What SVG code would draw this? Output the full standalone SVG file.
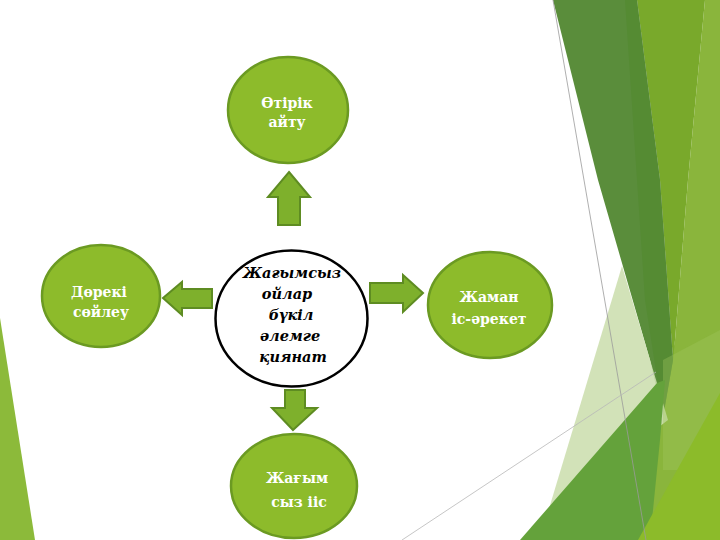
<svg xmlns="http://www.w3.org/2000/svg" width="720" height="540" viewBox="0 0 720 540">
<defs>
<style>
.node{fill:#8dbb2b;stroke:#6b9a22;stroke-width:2.5}
.arrow{fill:#7eb02c;stroke:#5e8c22;stroke-width:2}
.nt{font-family:"DejaVu Serif",serif;font-weight:bold;font-size:14px;fill:#ffffff;text-anchor:middle}
.ct{font-family:"DejaVu Serif",serif;font-weight:bold;font-style:italic;font-size:14.5px;fill:#000000;text-anchor:middle}
</style>
</defs>
<rect width="720" height="540" fill="#ffffff"/>
<g id="background">
<polygon points="0,318 35,540 0,540" fill="#8cba3a"/>
<polygon points="705,0 720,0 720,540 640,540 665,400 675,340 688,180" fill="#8ab53c"/>
<polygon points="637,0 705,0 688,180 675,340 673,360 660,180" fill="#79a92b"/>
<polygon points="553,0 637,0 660,180 673,360 663,417 650,360 598,180" fill="#5a8d3b"/>
<polygon points="625,0 637,0 660,180 673,360 663,417 645,300" fill="#538a30" opacity="0.7"/>
<polygon points="622,266 668,420 548,512" fill="#cddfb0" opacity="0.9"/>
<polygon points="663,360 720,330 720,470 663,470" fill="#a0c65e" opacity="0.35"/>
<polygon points="520,540 657,383 665,380 660,440 650,540" fill="#64a23b"/>
<polygon points="638,540 720,393 720,540" fill="#8cbb2a"/>
<line x1="553" y1="0" x2="646" y2="540" stroke="#9a9a9a" stroke-width="0.8"/>
<line x1="402" y1="540" x2="656" y2="372" stroke="#b8b8b8" stroke-width="0.8"/>
</g>
<g id="connectors">
<polygon class="arrow" points="289,172 310,197 300,197 300,225 278,225 278,197 268,197"/>
<polygon class="arrow" points="163,298 182,282 182,289 212,289 212,308 182,308 182,315"/>
<polygon class="arrow" points="423,293 403,275 403,283 370,283 370,303 403,303 403,312"/>
<polygon class="arrow" points="293,430 317,408 305,408 305,390 285,390 285,408 272,408"/>
</g>
<g id="center">
<ellipse cx="291.5" cy="318.5" rx="76" ry="68" fill="#ffffff" stroke="#000000" stroke-width="2.5"/>
<text class="ct" x="292" y="278">Жағымсыз</text>
<text class="ct" x="287" y="299">ойлар</text>
<text class="ct" x="291" y="320">бүкіл</text>
<text class="ct" x="290" y="341">әлемге</text>
<text class="ct" x="293" y="362">қиянат</text>
</g>
<g id="node-top">
<ellipse class="node" cx="288" cy="110" rx="60" ry="53"/>
<text class="nt" x="287" y="108">Өтірік</text>
<text class="nt" x="287" y="127">айту</text>
</g>
<g id="node-left">
<ellipse class="node" cx="101" cy="296" rx="59" ry="51"/>
<text class="nt" x="99" y="297">Дөрекі</text>
<text class="nt" x="101" y="317">сөйлеу</text>
</g>
<g id="node-right">
<ellipse class="node" cx="490" cy="305" rx="62" ry="53"/>
<text class="nt" x="489" y="302">Жаман</text>
<text class="nt" x="489" y="324">іс-әрекет</text>
</g>
<g id="node-bottom">
<ellipse class="node" cx="294" cy="486" rx="63" ry="52"/>
<text class="nt" x="297" y="483">Жағым</text>
<text class="nt" x="299" y="507">сыз ііс</text>
</g>
</svg>
